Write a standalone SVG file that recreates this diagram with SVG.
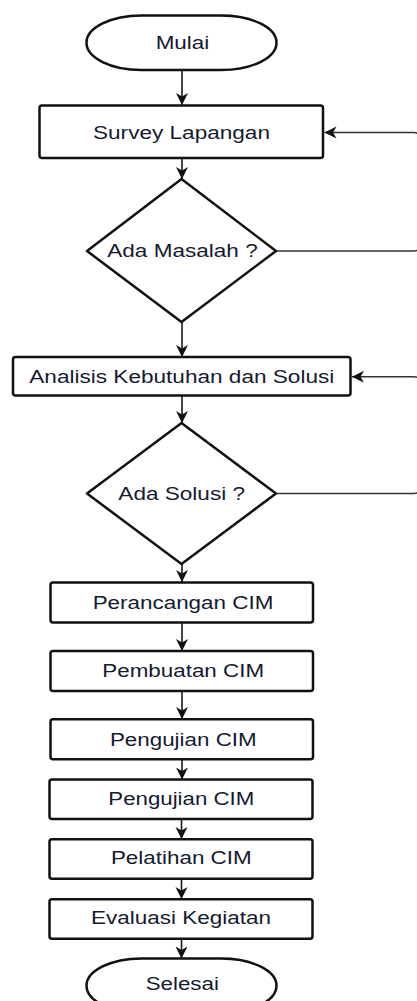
<svg xmlns="http://www.w3.org/2000/svg" width="417" height="1001" viewBox="0 0 417 1001">
<style>
.shape{fill:#fff;stroke:#111;stroke-width:2.5;stroke-linejoin:round}
.lbl{font-family:"Liberation Sans",Arial,sans-serif;font-size:17.5px;fill:#141a30;text-anchor:middle}
.conn{fill:none;stroke:#1a1a1a;stroke-width:1.6}
.loop{fill:none;stroke:#333;stroke-width:1.4}
</style>
<defs>
<marker id="arr" markerUnits="userSpaceOnUse" markerWidth="14" markerHeight="14" refX="12" refY="6.5" orient="auto">
<path d="M0,0.5 L12,6.5 L0,12.5 L3.5,6.5 Z" fill="#111"/>
</marker>
</defs>
<rect width="417" height="1001" fill="#fff"/>
<g id="connectors">
<path class="conn" d="M182,70 V105" marker-end="url(#arr)"/>
<path class="conn" d="M182,158 V179" marker-end="url(#arr)"/>
<path class="conn" d="M182,322 V357" marker-end="url(#arr)"/>
<path class="conn" d="M182,396 V423" marker-end="url(#arr)"/>
<path class="conn" d="M182,564 V582" marker-end="url(#arr)"/>
<path class="conn" d="M182,623 V651" marker-end="url(#arr)"/>
<path class="conn" d="M182,691 V719" marker-end="url(#arr)"/>
<path class="conn" d="M182,759.5 V779.5" marker-end="url(#arr)"/>
<path class="conn" d="M181.5,819 V839" marker-end="url(#arr)"/>
<path class="conn" d="M181.5,879 V899" marker-end="url(#arr)"/>
<path class="conn" d="M181.5,939 V958.5" marker-end="url(#arr)"/>
<path class="loop" d="M276,251 H414 Q419.5,251 419.5,245.5 V138 Q419.5,132.5 414,132.5 H324.5" marker-end="url(#arr)"/>
<path class="loop" d="M276,493.5 H414 Q419.5,493.5 419.5,488 V382.2 Q419.5,376.7 414,376.7 H352" marker-end="url(#arr)"/>
</g>
<g id="mulai">
<rect class="shape" x="86.5" y="15.5" width="190" height="54.5" rx="55" ry="27.25"/>
<text class="lbl" x="182.5" y="49" textLength="53.6" lengthAdjust="spacingAndGlyphs">Mulai</text>
</g>
<g id="survey">
<rect class="shape" x="39.5" y="105.5" width="283.5" height="52.5" rx="2.5"/>
<text class="lbl" x="181.5" y="138.5" textLength="177" lengthAdjust="spacingAndGlyphs">Survey Lapangan</text>
</g>
<g id="ada-masalah">
<polygon class="shape" points="181.5,179 276,251 181.5,322 87,251"/>
<text class="lbl" x="182.5" y="256.7" textLength="150.4" lengthAdjust="spacingAndGlyphs">Ada Masalah ?</text>
</g>
<g id="analisis">
<rect class="shape" x="13" y="357" width="337.5" height="38.5" rx="2.5"/>
<text class="lbl" x="181.8" y="383.3" textLength="305" lengthAdjust="spacingAndGlyphs">Analisis Kebutuhan dan Solusi</text>
</g>
<g id="ada-solusi">
<polygon class="shape" points="181.5,423 276,493.5 181.5,564 87,493.5"/>
<text class="lbl" x="181.7" y="500" textLength="126.7" lengthAdjust="spacingAndGlyphs">Ada Solusi ?</text>
</g>
<g id="perancangan">
<rect class="shape" x="50.5" y="582.5" width="262.5" height="40" rx="2.5"/>
<text class="lbl" x="183" y="609" textLength="180.7" lengthAdjust="spacingAndGlyphs">Perancangan CIM</text>
</g>
<g id="pembuatan">
<rect class="shape" x="50.5" y="651" width="262.5" height="40" rx="2.5"/>
<text class="lbl" x="183.2" y="676.7" textLength="161.7" lengthAdjust="spacingAndGlyphs">Pembuatan CIM</text>
</g>
<g id="pengujian1">
<rect class="shape" x="50.5" y="719.3" width="262.5" height="40" rx="2.5"/>
<text class="lbl" x="183.3" y="745.5" textLength="146.7" lengthAdjust="spacingAndGlyphs">Pengujian CIM</text>
</g>
<g id="pengujian2">
<rect class="shape" x="49.5" y="779.5" width="263" height="39.5" rx="2.5"/>
<text class="lbl" x="181.3" y="805" textLength="146" lengthAdjust="spacingAndGlyphs">Pengujian CIM</text>
</g>
<g id="pelatihan">
<rect class="shape" x="49.5" y="839.3" width="263" height="39.5" rx="2.5"/>
<text class="lbl" x="181.3" y="864.3" textLength="140.7" lengthAdjust="spacingAndGlyphs">Pelatihan CIM</text>
</g>
<g id="evaluasi">
<rect class="shape" x="49.5" y="899.3" width="263" height="39.5" rx="2.5"/>
<text class="lbl" x="181" y="924.3" textLength="180" lengthAdjust="spacingAndGlyphs">Evaluasi Kegiatan</text>
</g>
<g id="selesai">
<rect class="shape" x="86.5" y="958.5" width="190" height="54.5" rx="55" ry="27.25"/>
<text class="lbl" x="182.3" y="990" textLength="73.3" lengthAdjust="spacingAndGlyphs">Selesai</text>
</g>
</svg>
